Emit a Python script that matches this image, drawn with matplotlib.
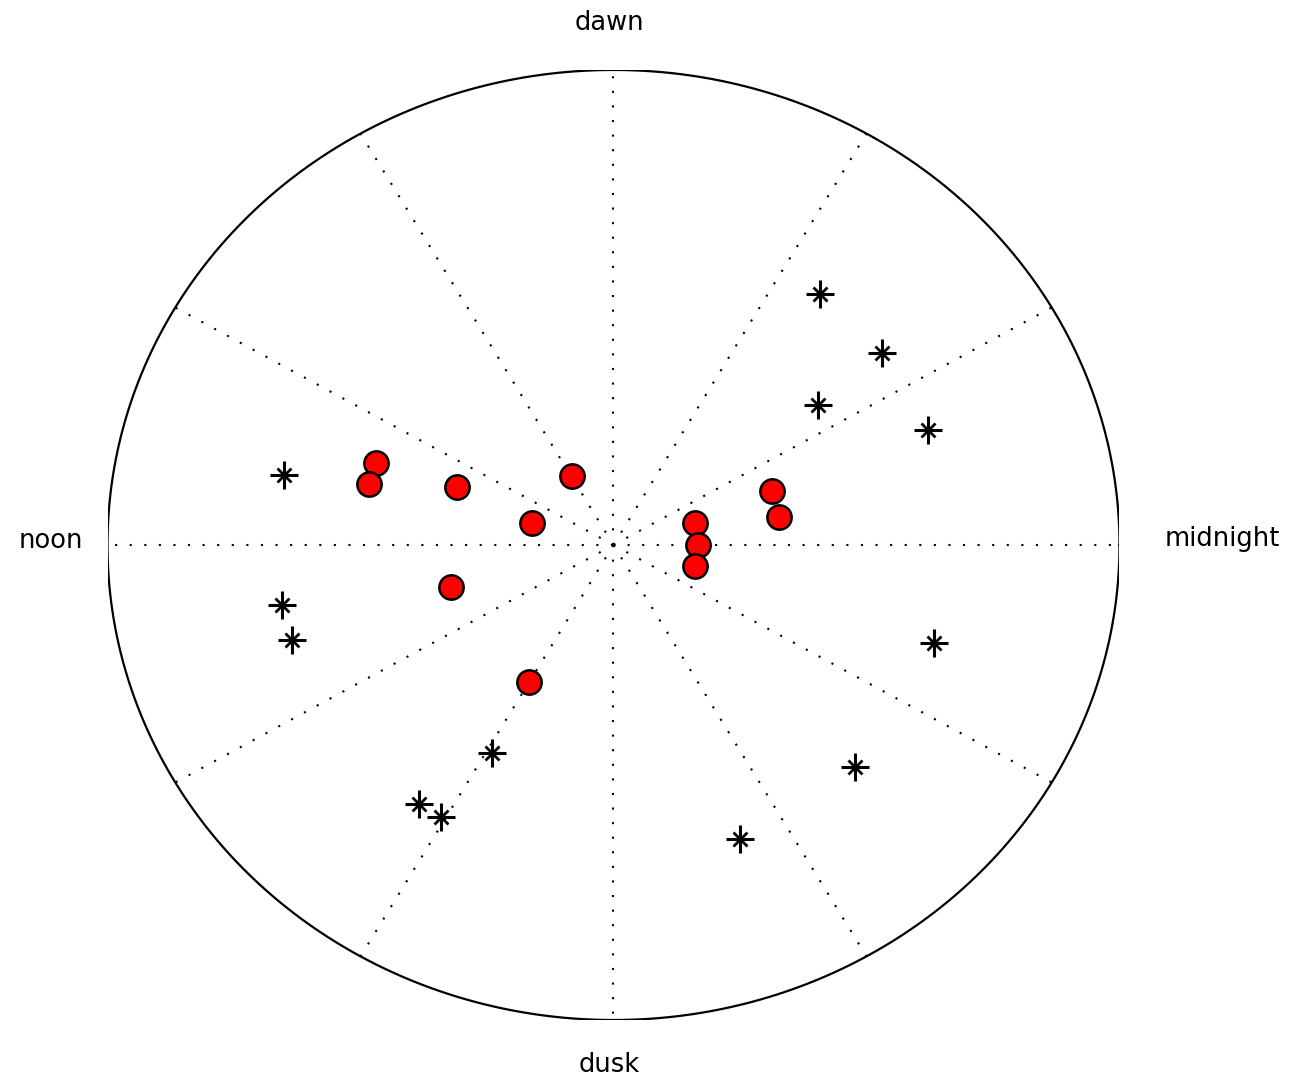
import numpy as np
import matplotlib
matplotlib.use("Agg")
import matplotlib.pyplot as plt

# Local time (hours; midnight right, dawn top, noon left, dusk bottom) and radius
star_hours = [3.49, 2.49, 2.40, 1.42, 22.8, 21.04, 19.47, 16.08, 15.65, 15.95, 11.15, 12.73, 13.16]
star_r     = [4.0, 4.0, 3.0, 4.0, 4.0, 4.0, 4.0, 3.0, 4.0, 4.0, 4.0, 4.0, 4.0]

dot_hours = [10.65, 11.01, 10.57, 7.98, 10.93, 13.02, 15.99, 1.07, 0.0, 22.97, 1.33, 0.68]
dot_r     = [3.0, 3.0, 2.0, 1.0, 1.0, 2.0, 2.0, 1.0, 1.0, 1.0, 2.0, 2.0]

r_max = 6.0
spoke_hours = [0, 2, 4, 6, 8, 10, 12, 14, 16, 18, 20, 22]
label_names = ["midnight", "dawn", "noon", "dusk"]
label_hours = [0, 6, 12, 18]


def to_xy(hours, r):
    th = np.deg2rad(np.asarray(hours) * 15.0)
    r = np.asarray(r)
    return r * np.cos(th), r * np.sin(th)


fig = plt.figure(figsize=(12.89, 10.78), dpi=100)
ax = fig.add_axes([0.0834, 0.0538, 0.7851, 0.8813])
ax.set_xlim(-r_max, r_max)
ax.set_ylim(-r_max, r_max)
ax.set_aspect("auto")
ax.axis("off")

# outer circle
t = np.linspace(0, 2 * np.pi, 400)
ax.plot(r_max * np.cos(t), r_max * np.sin(t), color="black", lw=1.6, zorder=2)

# spokes
for h in spoke_hours:
    x, y = to_xy([h, h], [0, r_max])
    ax.plot(x, y, color="black", lw=1.5, linestyle=(0, (1, 6)), zorder=1)

# stars
sx, sy = to_xy(star_hours, star_r)
ax.plot(sx, sy, linestyle="none", marker="+", ms=20, mew=2.2, color="black", zorder=3)
ax.plot(sx, sy, linestyle="none", marker="x", ms=10, mew=2.0, color="black", zorder=3)

# red circles
dx, dy = to_xy(dot_hours, dot_r)
ax.plot(dx, dy, linestyle="none", marker="o", ms=17.5, mfc="#ff0000", mec="black",
        mew=1.8, zorder=4)

# labels
fs = 18.5
for name, h in zip(label_names, label_hours):
    lx, ly = to_xy([h], [r_max])
    lx, ly = lx[0], ly[0]
    if name == "midnight":
        ax.text(lx + 0.53, ly + 0.07, name, ha="left", va="center", fontsize=fs)
    elif name == "noon":
        ax.text(lx - 0.285, ly + 0.05, name, ha="right", va="center", fontsize=fs)
    elif name == "dawn":
        ax.text(lx - 0.05, ly + 0.5, name, ha="center", va="baseline", fontsize=fs)
    else:
        ax.text(lx - 0.05, ly - 0.66, name, ha="center", va="baseline", fontsize=fs)

fig.savefig("out.png", dpi=100)
